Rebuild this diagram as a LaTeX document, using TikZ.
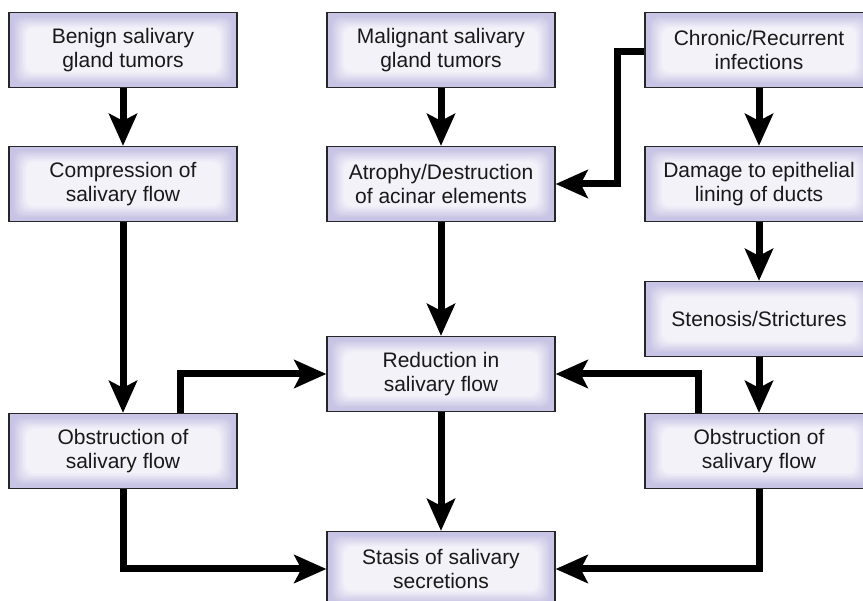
\documentclass[tikz,border=0pt]{standalone}
\usepackage{fontspec}
\setmainfont{Liberation Sans}
\usetikzlibrary{arrows.meta,calc}
\definecolor{glowedge}{RGB}{200,196,229}
\definecolor{glowcore}{RGB}{243,242,249}
\tikzset{
  flowbox/.style={draw=black!85, line width=1.3pt, minimum width=228pt, minimum height=75pt,
    inner sep=0pt, align=center, text=black!90, font=\fontsize{21}{23.5}\selectfont,
    path picture={
      \fill[glowedge] (path picture bounding box.south west) rectangle (path picture bounding box.north east);
      \foreach \k in {1,...,10}{
        \pgfmathsetmacro{\mixval}{10*\k}
        \fill[glowcore!\mixval!glowedge, rounded corners=9pt]
          ($(path picture bounding box.south west)+(3pt+1.4pt*\k,3pt+1.2pt*\k)$) rectangle
          ($(path picture bounding box.north east)-(3pt+1.4pt*\k,3pt+1.2pt*\k)$);
      }
    }},
  flowarrow/.style={line width=7pt, -{Stealth[length=32pt,width=28pt,inset=7pt]}}
}
\begin{document}
\begin{tikzpicture}[x=1pt, y=-1pt]
\useasboundingbox (0,0) rectangle (863,601);
% first row
\node[flowbox] (benign)    at (123,50)  {Benign salivary\\gland tumors};
\node[flowbox] (malignant) at (441,50)  {Malignant salivary\\gland tumors};
\node[flowbox] (chronic)   at (759,50)  {Chronic/Recurrent\\infections};
% second row
\node[flowbox] (compress)  at (123,184) {Compression of\\salivary flow};
\node[flowbox] (atrophy)   at (441,184) {Atrophy/Destruction\\of acinar elements};
\node[flowbox] (damage)    at (759,184) {Damage to epithelial\\lining of ducts};
% lower part
\node[flowbox] (stenosis)  at (759,319) {Stenosis/Strictures};
\node[flowbox] (reduction) at (441,374) {Reduction in\\salivary flow};
\node[flowbox] (obstrleft) at (123,451) {Obstruction of\\salivary flow};
\node[flowbox] (obstrright) at (759,451) {Obstruction of\\salivary flow};
\node[flowbox] (stasis)    at (441,569) {Stasis of salivary\\secretions};
% connectors
\draw[flowarrow] (benign) -- (compress);
\draw[flowarrow] (compress) -- (obstrleft);
\draw[flowarrow] (malignant) -- (atrophy);
\draw[flowarrow] (atrophy) -- (reduction);
\draw[flowarrow] (reduction) -- (stasis);
\draw[flowarrow] (chronic) -- (damage);
\draw[flowarrow] (damage) -- (stenosis);
\draw[flowarrow] (stenosis) -- (obstrright);
\draw[flowarrow] ([yshift=-2pt]chronic.west) -- ++(-27,0) |- (atrophy.east);
\draw[flowarrow] ([xshift=57pt]obstrleft.north) |- (reduction.west);
\draw[flowarrow] ([xshift=-61pt]obstrright.north) |- (reduction.east);
\draw[flowarrow] (obstrleft.south) |- (stasis.west);
\draw[flowarrow] (obstrright.south) |- (stasis.east);
\end{tikzpicture}
\end{document}
